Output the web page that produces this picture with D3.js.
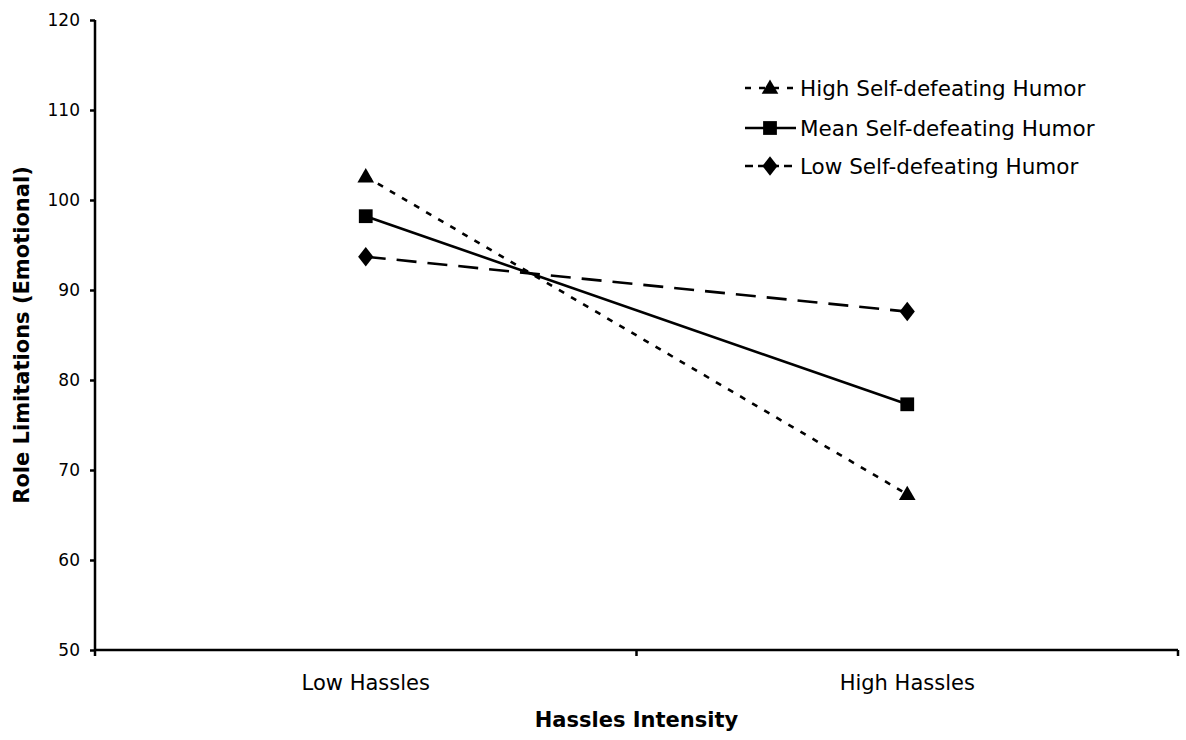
<!DOCTYPE html>
<html>
<head>
<meta charset="utf-8">
<script src="https://cdn.jsdelivr.net/npm/d3@7"></script>
<style>
  html, body { margin: 0; padding: 0; background: #fff; }
  svg { display: block; font-family: "DejaVu Sans", Verdana, sans-serif; }
</style>
</head>
<body>
<svg id="chart" width="1186" height="740"></svg>
<script>
// Hassles intensity levels on the x axis
const categories = ["Low Hassles", "High Hassles"];

// Role limitations (emotional) by level of self-defeating humor
const seriesNames = ["High Self-defeating Humor", "Mean Self-defeating Humor", "Low Self-defeating Humor"];
const highHumor = [102.6, 67.3];
const meanHumor = [98.2, 77.3];
const lowHumor = [93.7, 87.6];

const yTicks = [50, 60, 70, 80, 90, 100, 110, 120];

(function () {
  const series = [
    { name: seriesNames[0], values: highHumor, dash: "6,8", marker: "triangle" },
    { name: seriesNames[1], values: meanHumor, dash: null, marker: "square" },
    { name: seriesNames[2], values: lowHumor, dash: "20,11", marker: "diamond" }
  ];

  const svg = d3.select("#chart");
  const plotLeft = 95, plotRight = 1178, plotTop = 20, plotBottom = 650;

  const x = d3.scaleBand().domain(categories).range([plotLeft, plotRight]);
  const y = d3.scaleLinear().domain([50, 120]).range([plotBottom, plotTop]);
  const xc = c => x(c) + x.bandwidth() / 2;

  // y axis
  const yAxis = svg.append("g")
    .attr("transform", `translate(${plotLeft},0)`)
    .call(d3.axisLeft(y).tickValues(yTicks).tickSize(5).tickPadding(10).tickSizeOuter(0));
  yAxis.select(".domain").attr("stroke", "#000").attr("stroke-width", 2.5)
    .attr("d", `M0,${plotTop}V${plotBottom}`);
  yAxis.selectAll(".tick line").attr("stroke", "#000").attr("stroke-width", 2.5);
  yAxis.selectAll(".tick text").attr("font-size", 17).attr("fill", "#000")
    .attr("font-family", "DejaVu Sans, Verdana, sans-serif");

  // x axis: ticks on band edges, labels at band centres
  const xAxisG = svg.append("g").attr("transform", `translate(0,${plotBottom})`);
  xAxisG.append("line").attr("x1", plotLeft).attr("x2", plotRight).attr("y1", 0).attr("y2", 0)
    .attr("stroke", "#000").attr("stroke-width", 2.5);
  const edges = categories.map(c => x(c)).concat([x(categories[categories.length - 1]) + x.bandwidth()]);
  xAxisG.selectAll("line.edge").data(edges).enter().append("line")
    .attr("class", "edge")
    .attr("x1", d => d).attr("x2", d => d).attr("y1", 0).attr("y2", 6)
    .attr("stroke", "#000").attr("stroke-width", 2.5);
  xAxisG.selectAll("text.cat").data(categories).enter().append("text")
    .attr("class", "cat")
    .attr("x", d => xc(d)).attr("y", 40)
    .attr("text-anchor", "middle").attr("font-size", 21).attr("fill", "#000")
    .text(d => d);

  // axis titles
  svg.append("text")
    .attr("x", (plotLeft + plotRight) / 2).attr("y", 727)
    .attr("text-anchor", "middle").attr("font-size", 21).attr("font-weight", "bold")
    .text("Hassles Intensity");
  svg.append("text")
    .attr("transform", `translate(29,${(plotTop + plotBottom) / 2}) rotate(-90)`)
    .attr("text-anchor", "middle").attr("font-size", 21).attr("font-weight", "bold")
    .text("Role Limitations (Emotional)");

  // marker shapes
  const symbolFor = {
    triangle: d3.symbol().type(d3.symbolTriangle).size(120),
    square: d3.symbol().type(d3.symbolSquare).size(190),
    diamond: d3.symbol().type(d3.symbolDiamond).size(110)
  };
  function drawMarker(g, kind, cx, cy) {
    const p = g.append("path").attr("d", symbolFor[kind]()).attr("fill", "#000");
    if (kind === "diamond") {
      p.attr("transform", `translate(${cx},${cy}) scale(1.35,1)`);
    } else if (kind === "triangle") {
      p.attr("transform", `translate(${cx},${cy + 1})`);
    } else {
      p.attr("transform", `translate(${cx},${cy})`);
    }
  }

  const line = d3.line().x(d => xc(d.cat)).y(d => y(d.v));

  series.forEach(s => {
    const pts = categories.map((c, i) => ({ cat: c, v: s.values[i] }));
    svg.append("path")
      .attr("d", line(pts))
      .attr("fill", "none").attr("stroke", "#000").attr("stroke-width", 2.6)
      .attr("stroke-dasharray", s.dash);
    const g = svg.append("g");
    pts.forEach(p => drawMarker(g, s.marker, xc(p.cat), y(p.v)));
  });

  // legend
  const legend = svg.append("g");
  const legendY = [88, 128, 166];
  series.forEach((s, i) => {
    const ly = legendY[i];
    legend.append("line")
      .attr("x1", 745).attr("x2", 796).attr("y1", ly).attr("y2", ly)
      .attr("stroke", "#000").attr("stroke-width", 2.6)
      .attr("stroke-dasharray", s.marker === "triangle" ? "6,8" : (s.marker === "diamond" ? "8,5" : null));
    drawMarker(legend, s.marker, 770, ly);
    legend.append("text")
      .attr("x", 800).attr("y", ly).attr("dy", "0.36em")
      .attr("font-size", 21.5).attr("fill", "#000")
      .text(s.name);
  });
})();
</script>
</body>
</html>
